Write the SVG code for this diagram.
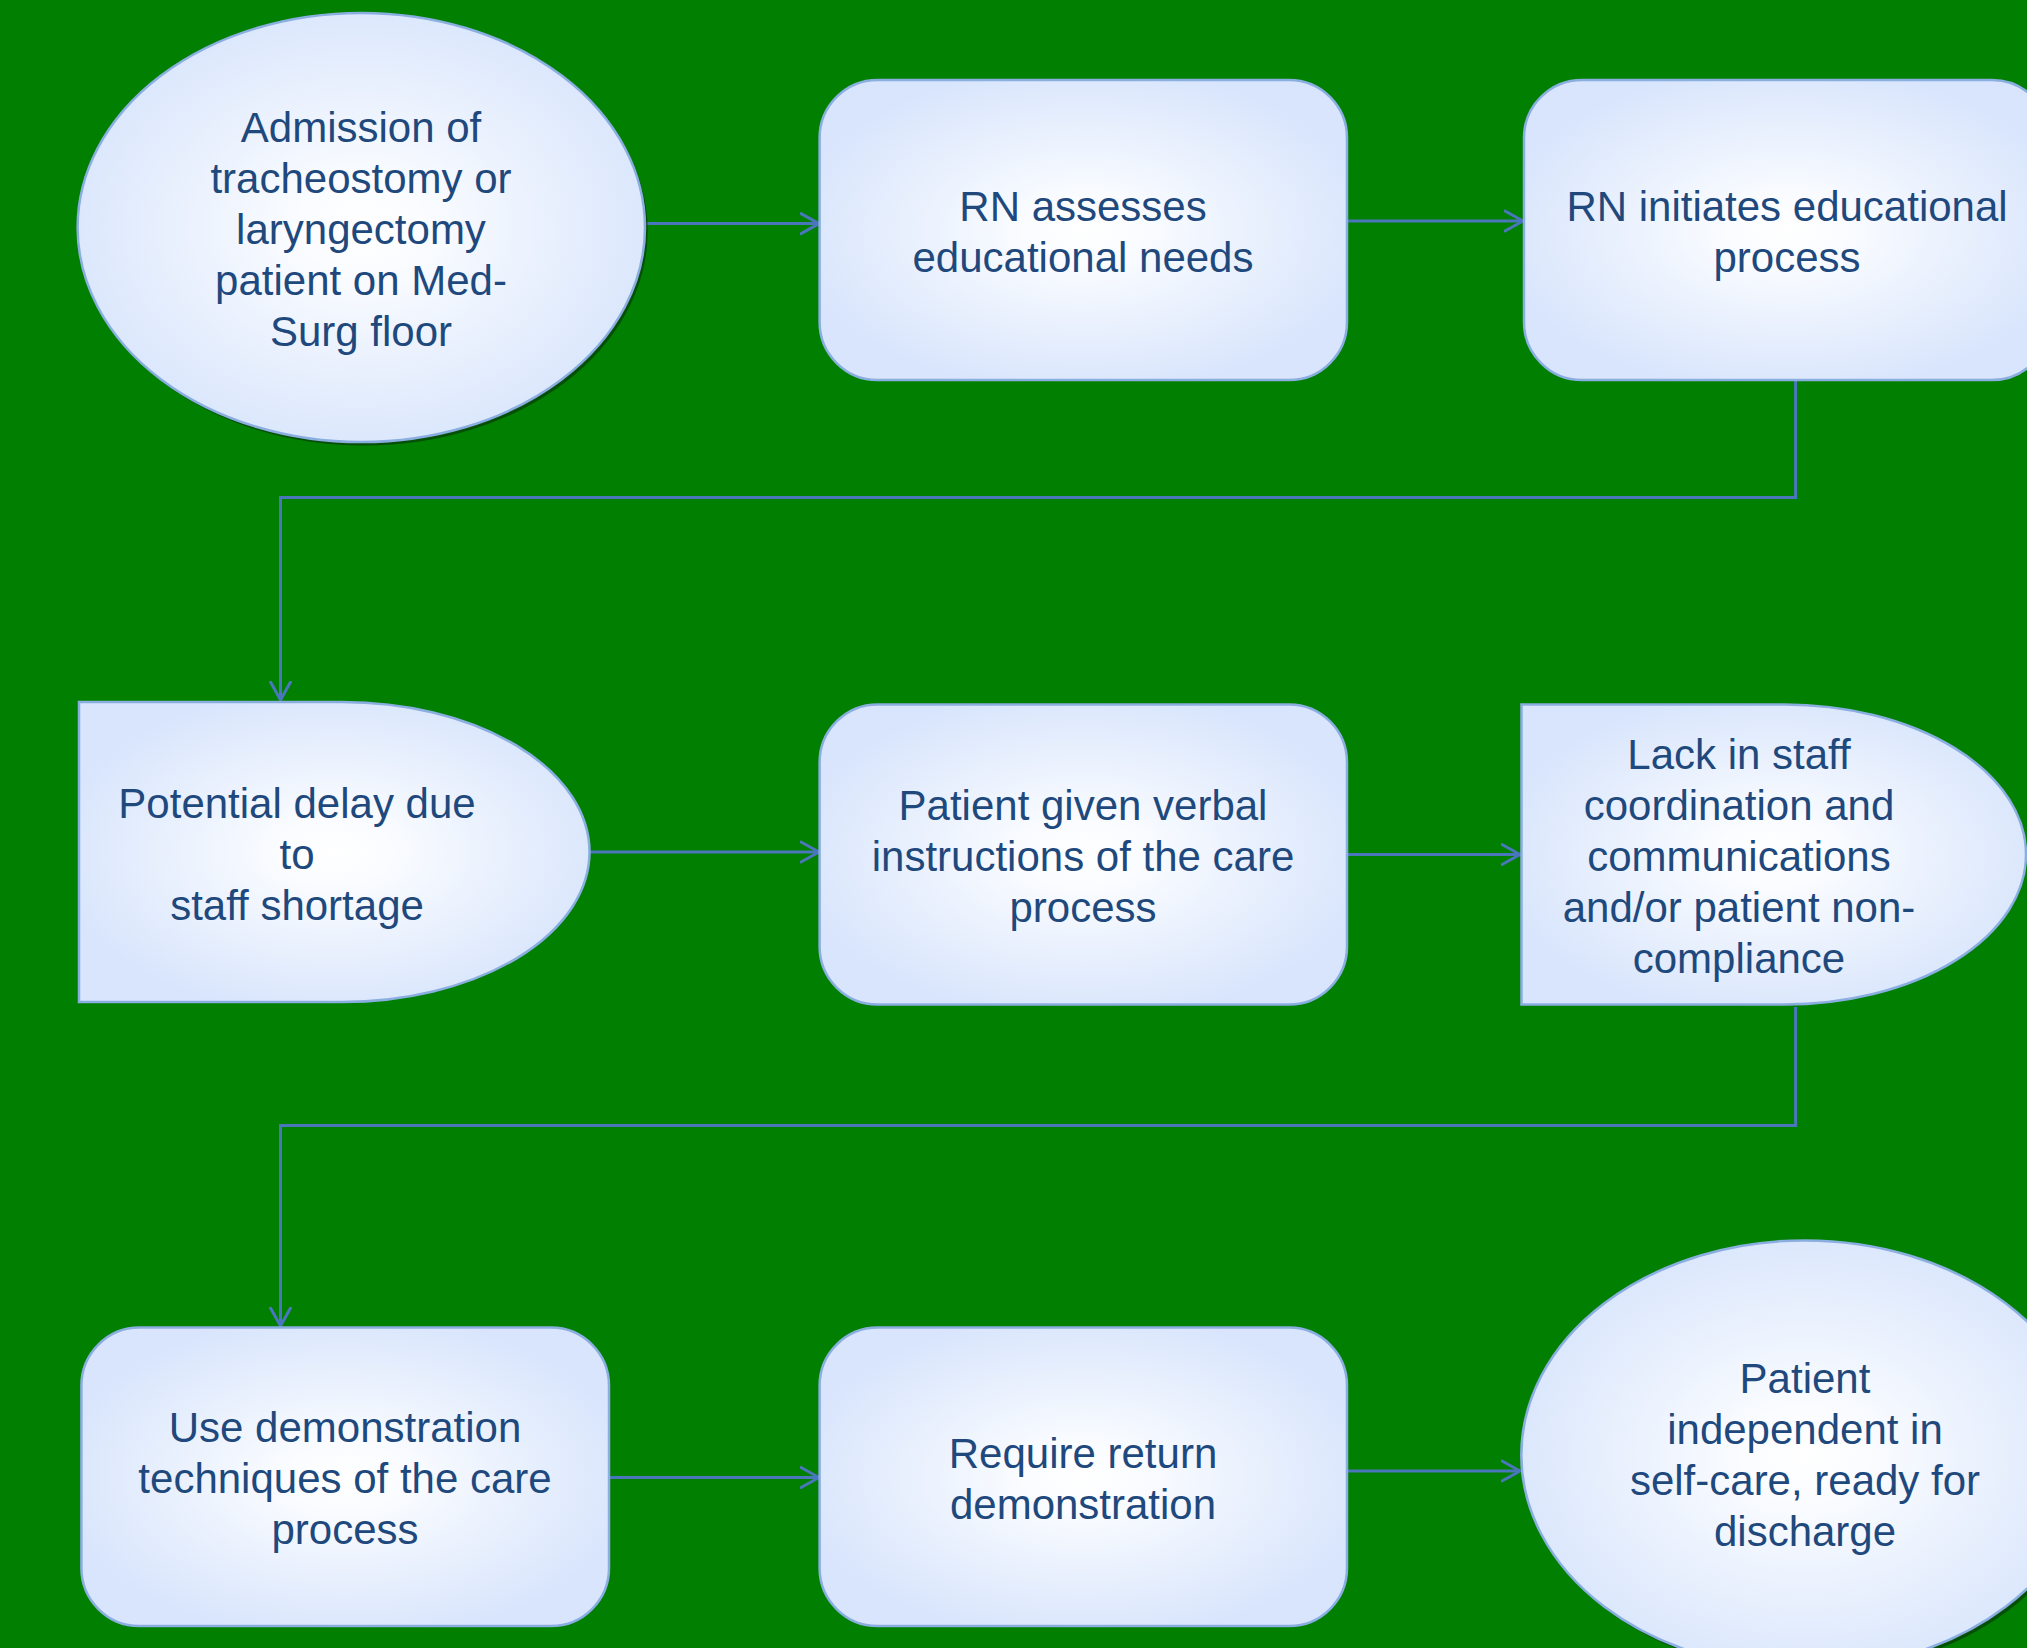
<svg xmlns="http://www.w3.org/2000/svg" width="2027" height="1648" viewBox="0 0 2027 1648">
<style>
.node{stroke:#8AAEE0;stroke-width:2.5;fill:url(#g)}
.shadow{fill:#0a3d0a;opacity:0.75}
.t{font-family:"Liberation Sans",Arial,sans-serif;font-size:42px;fill:#1F497D;text-anchor:middle}
.c{fill:none;stroke:#4A76BC;stroke-width:3;marker-end:url(#arr)}
</style>
<defs>
<radialGradient id="g" cx="0.5" cy="0.5" r="0.55">
<stop offset="0" stop-color="#FFFFFF"/>
<stop offset="0.2" stop-color="#FAFCFF"/>
<stop offset="1" stop-color="#D8E5FC"/>
</radialGradient>
<marker id="arr" markerUnits="userSpaceOnUse" markerWidth="24" markerHeight="26" refX="19" refY="11" orient="auto" viewBox="0 0 24 22">
<path d="M1,1 L19,11 L1,21" fill="none" stroke="#4A76BC" stroke-width="3" stroke-linecap="round" stroke-linejoin="round"/>
</marker>
</defs>
<rect x="0" y="0" width="2027" height="1648" fill="#007F00"/>

<g id="connectors">
<path class="c" d="M645,223.6 H819"/>
<path class="c" d="M1347,221 H1523"/>
<path class="c" d="M1795.6,380 V497.5 H280.5 V700"/>
<path class="c" d="M589.5,852 H819"/>
<path class="c" d="M1347,854.5 H1520"/>
<path class="c" d="M1795.6,1007 V1125.5 H280.5 V1326"/>
<path class="c" d="M609,1477.5 H819"/>
<path class="c" d="M1347,1471 H1520"/>
</g>

<g id="n1">
<ellipse class="shadow" cx="364" cy="231" rx="283.7" ry="214.6"/>
<ellipse class="node" cx="361.3" cy="227.5" rx="283.7" ry="214.6"/>
<text class="t" x="361" y="142">Admission of</text>
<text class="t" x="361" y="193">tracheostomy or</text>
<text class="t" x="361" y="244">laryngectomy</text>
<text class="t" x="361" y="295">patient on Med-</text>
<text class="t" x="361" y="346">Surg floor</text>
</g>

<g id="n2">
<rect class="node" x="819.6" y="80" width="527.4" height="300" rx="58" ry="58"/>
<text class="t" x="1083" y="221">RN assesses</text>
<text class="t" x="1083" y="272">educational needs</text>
</g>

<g id="n3">
<rect class="node" x="1524" y="80" width="526" height="300" rx="58" ry="58"/>
<text class="t" x="1787" y="221">RN initiates educational</text>
<text class="t" x="1787" y="272">process</text>
</g>

<g id="n4">
<path class="node" d="M79,702 H342 A247.5,150 0 0 1 342,1002 H79 Z"/>
<text class="t" x="297" y="818">Potential delay due</text>
<text class="t" x="297" y="869">to</text>
<text class="t" x="297" y="920">staff shortage</text>
</g>

<g id="n5">
<rect class="node" x="819.6" y="704.5" width="527.4" height="300" rx="58" ry="58"/>
<text class="t" x="1083" y="820">Patient given verbal</text>
<text class="t" x="1083" y="871">instructions of the care</text>
<text class="t" x="1083" y="922">process</text>
</g>

<g id="n6">
<path class="node" d="M1521.5,704.5 H1784 A242,150 0 0 1 1784,1004.5 H1521.5 Z"/>
<text class="t" x="1739" y="769">Lack in staff</text>
<text class="t" x="1739" y="820">coordination and</text>
<text class="t" x="1739" y="871">communications</text>
<text class="t" x="1739" y="922">and/or patient non-</text>
<text class="t" x="1739" y="973">compliance</text>
</g>

<g id="n7">
<rect class="node" x="81.4" y="1327.6" width="527.6" height="298.4" rx="58" ry="58"/>
<text class="t" x="345" y="1442">Use demonstration</text>
<text class="t" x="345" y="1493">techniques of the care</text>
<text class="t" x="345" y="1544">process</text>
</g>

<g id="n8">
<rect class="node" x="819.6" y="1327.6" width="527.4" height="298.4" rx="58" ry="58"/>
<text class="t" x="1083" y="1468">Require return</text>
<text class="t" x="1083" y="1519">demonstration</text>
</g>

<g id="n9">
<ellipse class="shadow" cx="1808" cy="1458.5" rx="283.7" ry="214.6"/>
<ellipse class="node" cx="1805" cy="1455" rx="283.7" ry="214.6"/>
<text class="t" x="1805" y="1393">Patient</text>
<text class="t" x="1805" y="1444">independent in</text>
<text class="t" x="1805" y="1495">self-care, ready for</text>
<text class="t" x="1805" y="1546">discharge</text>
</g>
</svg>
